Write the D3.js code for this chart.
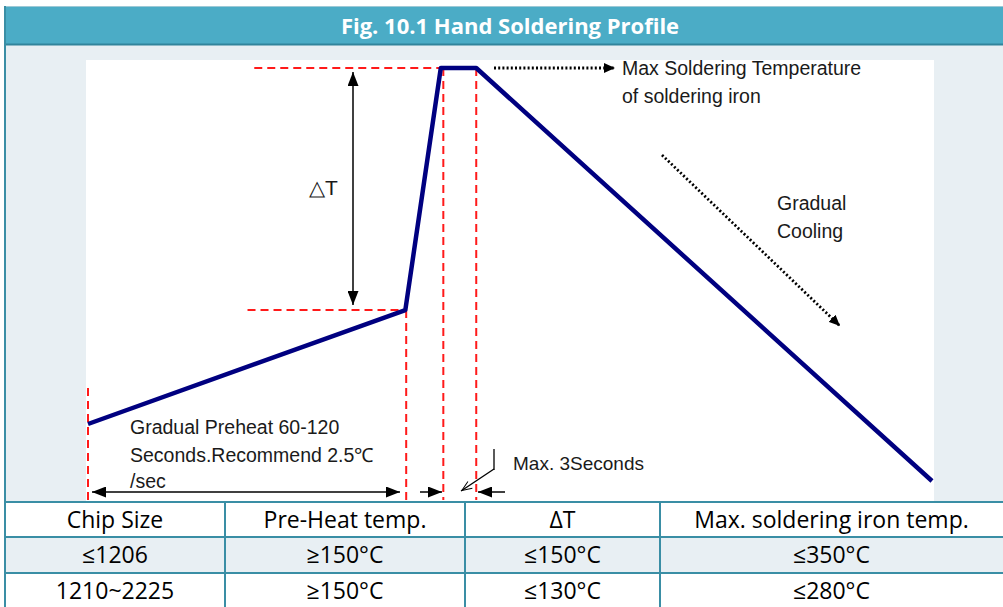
<!DOCTYPE html>
<html>
<head>
<meta charset="utf-8">
<script src="https://cdn.jsdelivr.net/npm/d3@7"></script>
<style>
  body { margin: 0; background: #fff; }
  svg { display: block; }
  .note { font-family: "Liberation Sans", Arial, sans-serif; font-size: 19.5px; fill: #1a1a1a; }
  .cell { font-family: "Open Sans", sans-serif; font-size: 23px; fill: #000; }
</style>
</head>
<body>
<svg width="1003" height="607"></svg>
<script>
// Data (schematic units: time 0-100, temperature 0-100)
const profileTime = [0, 37.6, 41.8, 46.0, 100];
const profileTemp = [13.8, 41.4, 100, 100, 0];

// guide lines: horizontal levels, vertical markers
const hGuides = [{ t0: 19.7, t1: 41.8, temp: 100 }, { t0: 18.9, t1: 37.6, temp: 41.4 }];
const vGuides = [{ t: 0, top: 22.5 }, { t: 37.7, top: 41.4 }, { t: 42.1, top: 100 }, { t: 46.0, top: 100 }];

const tableHeader = ['Chip Size', 'Pre-Heat temp.', '\u0394T', 'Max. soldering iron temp.'];
const tableRows = [
  ['\u22641206', '\u2265150\u00B0C', '\u2264150\u00B0C', '\u2264350\u00B0C'],
  ['1210~2225', '\u2265150\u00B0C', '\u2264130\u00B0C', '\u2264280\u00B0C']
];

const svg = d3.select('svg');
const width = 1003, height = 607;

// frame
svg.append('rect').attr('x', 5).attr('y', 6).attr('width', 1000).attr('height', 496)
  .attr('fill', '#e8eff3');
svg.append('rect').attr('x', 5).attr('y', 7).attr('width', 1000).attr('height', 37)
  .attr('fill', '#4bacc6');
svg.append('line').attr('x1', 5).attr('x2', 1003).attr('y1', 44.5).attr('y2', 44.5)
  .attr('stroke', '#31849b').attr('stroke-width', 2);
svg.append('line').attr('x1', 5).attr('x2', 1003).attr('y1', 6.5).attr('y2', 6.5)
  .attr('stroke', '#9cc9d6').attr('stroke-width', 1);
svg.append('text').attr('x', 510).attr('y', 34)
  .attr('text-anchor', 'middle')
  .style('font-family', '"Open Sans", sans-serif')
  .style('font-weight', 'bold').style('font-size', '22px').attr('fill', '#fff')
  .text('Fig. 10.1 Hand Soldering Profile');

// white picture area
svg.append('rect').attr('x', 86).attr('y', 60).attr('width', 848).attr('height', 442).attr('fill', '#fff');

const x = d3.scaleLinear().domain([0, 100]).range([88, 932]);
const y = d3.scaleLinear().domain([0, 100]).range([481, 68]);

const defs = svg.append('defs');
function marker(id, path, w, h, fill, stroke) {
  defs.append('marker').attr('id', id)
    .attr('viewBox', `0 0 ${w} ${h}`).attr('refX', w).attr('refY', h / 2)
    .attr('markerWidth', w).attr('markerHeight', h).attr('markerUnits', 'userSpaceOnUse')
    .attr('orient', 'auto-start-reverse')
    .append('path').attr('d', path).attr('fill', fill).attr('stroke', stroke || 'none');
}
marker('tri', 'M0,0 L14,5.5 L0,11 Z', 14, 11, '#000');
marker('tri2', 'M0,0 L11,5 L0,10 Z', 11, 10, '#000');
marker('vee', 'M1,1 L11,5 L1,9', 12, 10, 'none', '#000');

// red dashed guides
const guides = svg.append('g').attr('stroke', '#ff1a1a').attr('stroke-width', 2)
  .attr('stroke-dasharray', '8,5').attr('fill', 'none');
guides.selectAll('line.h').data(hGuides).join('line').attr('class', 'h')
  .attr('x1', d => x(d.t0)).attr('x2', d => x(d.t1))
  .attr('y1', d => y(d.temp)).attr('y2', d => y(d.temp));
guides.selectAll('line.v').data(vGuides).join('line').attr('class', 'v')
  .attr('x1', d => x(d.t)).attr('x2', d => x(d.t))
  .attr('y1', d => y(d.top)).attr('y2', 500);

// profile
const line = d3.line().x(d => x(d[0])).y(d => y(d[1]));
svg.append('path').datum(d3.zip(profileTime, profileTemp))
  .attr('d', line).attr('fill', 'none')
  .attr('stroke', '#000080').attr('stroke-width', 4.5).attr('stroke-linejoin', 'round');

// delta T arrow
svg.append('line').attr('x1', 353).attr('x2', 353).attr('y1', y(100) + 4).attr('y2', y(41.4) - 5)
  .attr('stroke', '#000').attr('stroke-width', 1.5)
  .attr('marker-start', 'url(#tri)').attr('marker-end', 'url(#tri)');
svg.append('text').attr('class', 'note').attr('x', 309).attr('y', 195)
  .style('font-size', '21px').text('\u25B3T');

// max temp dotted arrow
svg.append('line').attr('x1', 494).attr('x2', 615).attr('y1', 68).attr('y2', 68)
  .attr('stroke', '#000').attr('stroke-width', 2.8).attr('stroke-dasharray', '2,2.2')
  .attr('marker-end', 'url(#tri2)');
svg.append('text').attr('class', 'note').attr('x', 622).attr('y', 75).text('Max Soldering Temperature');
svg.append('text').attr('class', 'note').attr('x', 622).attr('y', 103).text('of soldering iron');

// cooling dotted arrow
svg.append('line').attr('x1', 662).attr('x2', 840).attr('y1', 155).attr('y2', 326)
  .attr('stroke', '#000').attr('stroke-width', 2.8).attr('stroke-dasharray', '2,2.2')
  .attr('marker-end', 'url(#tri2)');
svg.append('text').attr('class', 'note').attr('x', 777).attr('y', 210).text('Gradual');
svg.append('text').attr('class', 'note').attr('x', 777).attr('y', 238).text('Cooling');

// preheat note
svg.append('text').attr('class', 'note').attr('x', 130).attr('y', 434).text('Gradual Preheat 60-120');
svg.append('text').attr('class', 'note').attr('x', 130).attr('y', 462).text('Seconds.Recommend 2.5\u2103');
svg.append('text').attr('class', 'note').attr('x', 130).attr('y', 488).text('/sec');

// bottom duration arrows
svg.append('line').attr('x1', 92).attr('x2', 400).attr('y1', 492).attr('y2', 492)
  .attr('stroke', '#000').attr('stroke-width', 1.5)
  .attr('marker-start', 'url(#tri)').attr('marker-end', 'url(#tri)');
svg.append('line').attr('x1', 420).attr('x2', 442).attr('y1', 492).attr('y2', 492)
  .attr('stroke', '#000').attr('stroke-width', 1.5).attr('marker-end', 'url(#tri)');
svg.append('line').attr('x1', 505).attr('x2', 478).attr('y1', 492).attr('y2', 492)
  .attr('stroke', '#000').attr('stroke-width', 1.5).attr('marker-end', 'url(#tri)');
svg.append('line').attr('x1', 494).attr('x2', 494).attr('y1', 449).attr('y2', 470)
  .attr('stroke', '#000').attr('stroke-width', 1.3);
svg.append('line').attr('x1', 494).attr('x2', 461).attr('y1', 469).attr('y2', 491)
  .attr('stroke', '#000').attr('stroke-width', 1.3).attr('marker-end', 'url(#vee)');
svg.append('text').attr('class', 'note').attr('x', 513).attr('y', 470)
  .style('font-size', '19px').text('Max. 3Seconds');

// table
const colEdges = [5, 225, 465, 660, 1003];
const rowEdges = [502, 537, 573, 609];
const rowFill = ['#fff', '#e8eff3', '#fff'];
const allRows = [tableHeader].concat(tableRows);
const tbl = svg.append('g');
tbl.selectAll('rect').data(allRows).join('rect')
  .attr('x', 5).attr('width', 998)
  .attr('y', (d, i) => rowEdges[i]).attr('height', (d, i) => rowEdges[i + 1] - rowEdges[i])
  .attr('fill', (d, i) => rowFill[i]);
allRows.forEach((row, i) => {
  tbl.selectAll(null).data(row).join('text').attr('class', 'cell')
    .attr('x', (d, j) => (colEdges[j] + colEdges[j + 1]) / 2)
    .attr('y', (rowEdges[i] + rowEdges[i + 1]) / 2 + 8)
    .attr('text-anchor', 'middle').text(d => d);
});
tbl.selectAll('line.r').data(rowEdges.slice(0, 3)).join('line').attr('class', 'r')
  .attr('x1', 5).attr('x2', 1003).attr('y1', d => d).attr('y2', d => d)
  .attr('stroke', '#3a8ea5').attr('stroke-width', 2);
tbl.selectAll('line.c').data(colEdges.slice(1, 4)).join('line').attr('class', 'c')
  .attr('x1', d => d).attr('x2', d => d).attr('y1', 502).attr('y2', 607)
  .attr('stroke', '#3a8ea5').attr('stroke-width', 2);
svg.append('line').attr('x1', 5).attr('x2', 5).attr('y1', 6).attr('y2', 607)
  .attr('stroke', '#3a8ea5').attr('stroke-width', 2);
</script>
</body>
</html>
